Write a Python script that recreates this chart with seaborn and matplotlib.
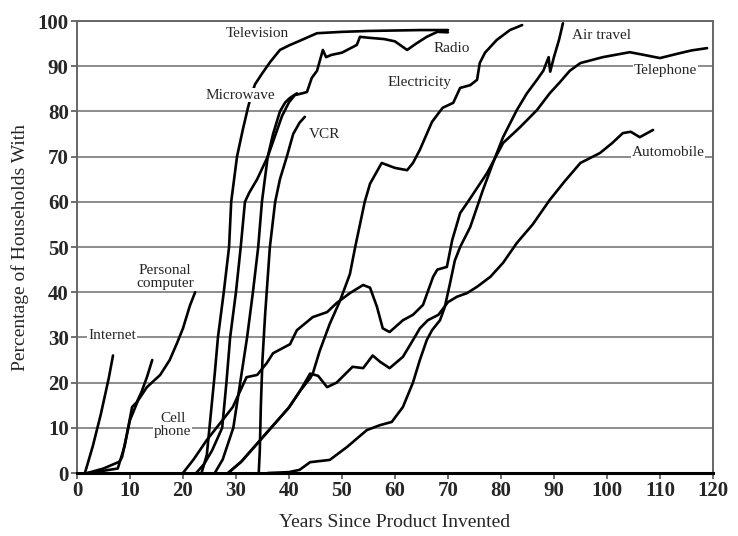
import numpy as np
import matplotlib
matplotlib.use("Agg")
import matplotlib.pyplot as plt
import seaborn as sns

# Curves (years since invention, % of households)
internet_x = [1.5, 3, 4.5, 6, 6.8]
internet_y = [0, 6, 13, 21, 26]

cell_x = [2, 5, 7.7, 9, 10.4, 11.3, 12.2, 13.2, 14.2]
cell_y = [0, 0.5, 1, 6, 14.6, 15.7, 18, 21.2, 25]

pc_x = [2, 5, 8, 8.5, 10, 11.5, 13.2, 15.7, 17.5, 18.9, 20, 21.3, 22.3]
pc_y = [0, 1, 2.5, 3.5, 11.7, 16, 19, 21.7, 25, 28.8, 32, 37, 40]

tv_x = [23.5, 24.5, 25, 26, 26.6, 27.7, 28.7, 29.1, 30.2, 31.3, 32.3, 33, 33.6,
        35, 36.5, 38.3, 40.2, 42, 45.3, 50, 55, 60, 65, 70]
tv_y = [0, 4, 10, 22, 30, 40, 50, 60, 70, 76, 81, 84, 86,
        88.5, 91, 93.6, 94.7, 95.6, 97.3, 97.6, 97.8, 97.9, 98, 98]

radio_x = [22.5, 24, 25.5, 27.4, 28.2, 28.9, 30, 30.9, 31.7, 32.5, 34, 36, 37.5,
           38.7, 40, 41.1, 42.5, 43.4, 44.3, 45.3, 46.4, 47, 48, 50, 52.8, 53.4,
           55, 58, 60, 62.3, 64, 66, 68, 70]
radio_y = [0, 2, 5, 10, 20, 30, 40, 50, 60, 62, 65, 70, 75,
           79, 82, 83.6, 84, 84.3, 87.4, 89, 93.6, 92, 92.5, 93, 94.7, 96.5,
           96.3, 96, 95.5, 93.6, 95, 96.5, 97.6, 97.5]

micro_x = [26, 27.5, 29.5, 30.8, 32.1, 33.2, 34.2, 34.9, 36, 37, 38.3, 39.3, 40.2, 41.5]
micro_y = [0, 3, 10, 20, 30, 40, 50, 60, 70, 75, 80, 82, 83, 84]

vcr_x = [34.3, 34.5, 34.7, 35, 35.5, 36.4, 37.4, 38.3, 39.6, 40.8, 42, 43]
vcr_y = [0, 5, 15, 25, 35, 50, 60, 65, 70, 75, 77.5, 78.8]

elec_x = [28.5, 31, 34, 37, 40, 42, 44, 44.5, 45.8, 47.7, 49.6, 51.5, 52.5, 54.3,
          55.3, 57.5, 60, 62.3, 63.4, 64.7, 67, 69, 71, 72.3, 74.2, 75.5, 76, 77,
          79.2, 81.7, 84]
elec_y = [0, 2.5, 6.5, 10.5, 14.5, 18, 21, 22, 27, 33, 38, 44, 50, 60,
          64, 68.6, 67.5, 67, 68.6, 71.5, 77.7, 80.8, 81.9, 85.2, 85.8, 87, 90.7, 93,
          95.8, 98, 99.1]

auto_x = [28.5, 31, 34, 37, 40, 42, 44, 45.5, 47.2, 49, 52, 54, 55.8, 57.2, 59,
          61.5, 63.4, 64.7, 66.2, 68.2, 70, 71.7, 73.6, 75.5, 78, 80.4, 83, 86,
          89.2, 92, 95, 98.7, 101, 103, 104.5, 106.2, 108.7]
auto_y = [0, 2.5, 6.5, 10.5, 14.5, 18, 22, 21.5, 19, 20, 23.5, 23.2, 26, 24.6, 23.2,
          25.7, 29.4, 32, 33.8, 35, 37.8, 39, 39.8, 41.2, 43.4, 46.5, 50.9, 55,
          60.4, 64.5, 68.6, 70.8, 73, 75.2, 75.5, 74.3, 75.9]

air_x = [36, 40, 42, 44, 47.7, 51, 54.7, 57.2, 59.4, 61.5, 63.4, 64.7, 66, 67,
         68.5, 69.4, 70.4, 71.3, 72.3, 74.2, 76.6, 78.5, 80.4, 83, 84.9, 86.8,
         88, 89, 89.3, 90, 91, 91.7]
air_y = [0, 0.2, 0.7, 2.4, 2.9, 5.8, 9.5, 10.6, 11.3, 14.6, 20, 25, 29.4, 31.6,
         33.8, 36.7, 42, 47, 50, 54.4, 62.6, 68.6, 74.3, 80.3, 84, 87,
         89, 92, 88.8, 92, 96, 99.5]

phone_x = [20, 22, 24.5, 27, 29.4, 32, 34, 35.8, 37, 40.2, 41.5, 44.5, 47.2, 49,
           51.5, 54, 55.3, 56.6, 57.7, 59, 61.5, 63.4, 65.3, 67.2, 68, 69.8, 70.8,
           72.3, 73.6, 77.4, 80.4, 83.6, 86.8, 89.2, 91, 93, 95, 99.2, 104.3, 107,
           110, 113.8, 116, 118.9]
phone_y = [0, 3, 7.3, 11, 14.6, 21.2, 21.7, 24.3, 26.5, 28.5, 31.6, 34.5, 35.6, 37.6,
           39.8, 41.6, 41, 36.8, 32, 31.2, 33.8, 35, 37.2, 43.4, 45, 45.6, 51.5,
           57.5, 59.7, 66.4, 73, 76.5, 80.3, 84, 86.3, 89, 90.7, 92, 93.1, 92.5,
           91.8, 92.9, 93.5, 94]

curves = [
    (internet_x, internet_y), (cell_x, cell_y), (pc_x, pc_y), (tv_x, tv_y),
    (radio_x, radio_y), (micro_x, micro_y), (vcr_x, vcr_y), (elec_x, elec_y),
    (auto_x, auto_y), (air_x, air_y), (phone_x, phone_y),
]

# label text, x, y, boxed (covers gridline)
labels = [
    ("Television", 34.1, 97.3, False),
    ("Radio", 70.8, 94.0, False),
    ("Air travel", 99.0, 96.9, False),
    ("Electricity", 64.7, 86.3, False),
    ("Telephone", 111.0, 89.0, True),
    ("Microwave", 30.8, 83.6, True),
    ("VCR", 46.8, 74.8, False),
    ("Automobile", 111.5, 71.0, True),
    ("Personal\ncomputer", 16.6, 43.4, False),
    ("Internet", 6.6, 30.5, True),
    ("Cell\nphone", 18.1, 10.6, True),
]

sns.set_theme(style="white")
plt.rcParams['font.family'] = ['Liberation Serif', 'DejaVu Serif']

fig = plt.figure(figsize=(7.38, 5.36), dpi=100)
ax = fig.add_axes([0.1043, 0.1175, 0.8617, 0.8433])

for xs, ys in curves:
    sns.lineplot(x=xs, y=ys, ax=ax, color="black", lw=1.9, sort=False,
                 estimator=None, zorder=3)

ax.set_xlim(0, 120)
ax.set_ylim(0, 100)
ax.set_xticks(np.arange(0, 121, 10))
ax.set_yticks(np.arange(0, 101, 10))
ax.yaxis.grid(True, color="#8c8c8c", lw=1.4)
ax.set_axisbelow(True)
ax.tick_params(axis="both", which="major", labelsize=15, length=4,
               width=1.2, color="#555555", direction="out", pad=2,
               bottom=True, left=True)
for lab in ax.get_xticklabels() + ax.get_yticklabels():
    lab.set_fontweight("bold")

for side in ["left", "right", "top"]:
    ax.spines[side].set_color("#666666")
    ax.spines[side].set_linewidth(1.4)
ax.spines["bottom"].set_color("black")
ax.spines["bottom"].set_linewidth(2.2)

for text, lx, ly, boxed in labels:
    kw = {}
    if boxed:
        kw["bbox"] = dict(facecolor="white", edgecolor="none", pad=0.5)
    ax.text(lx, ly, text, fontsize=11, ha="center", va="center",
            linespacing=0.95, zorder=5, **kw)

ax.set_xlabel("Years Since Product Invented", fontsize=14, labelpad=9)
ax.set_ylabel("Percentage of Households With", fontsize=14, labelpad=6)

fig.savefig("out.png", dpi=100)
